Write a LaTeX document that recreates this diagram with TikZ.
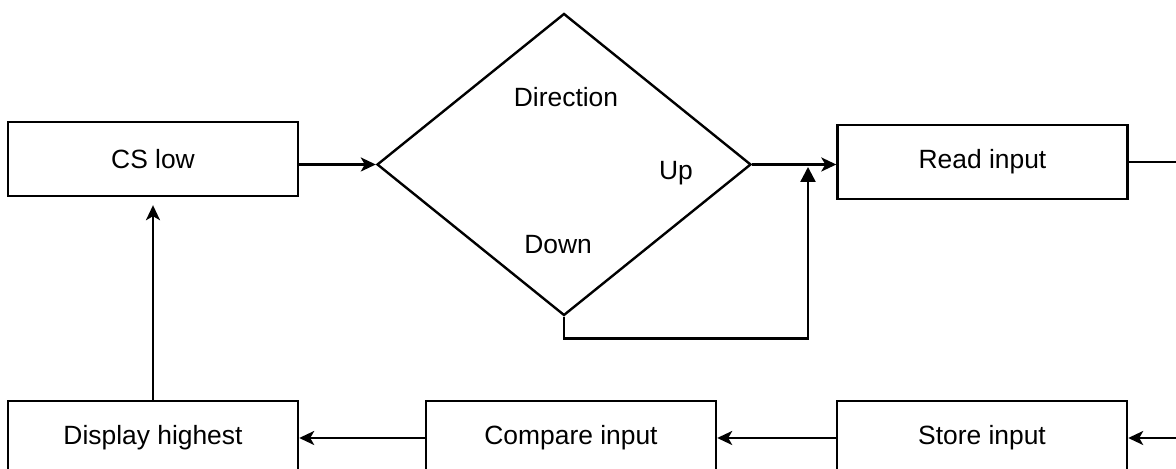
\documentclass[tikz,border=0pt]{standalone}
\usepackage{fontspec}
\setmainfont{Liberation Sans}
\usepackage{tikz}
\usetikzlibrary{arrows.meta, positioning, shapes.geometric, calc}

\begin{document}
\begin{tikzpicture}[
        x=0.5pt,
        y=0.5pt,
        line width=1.2pt,
        font=\fontsize{13.2pt}{16pt}\selectfont,
        stepbox/.style={draw,line width=1.2pt,minimum width=145pt,minimum height=37pt,inner sep=0pt},
        decision/.style={draw,diamond,line width=1.2pt,minimum width=187pt,minimum height=151pt,inner sep=0pt},
        flow/.style={-{Stealth[length=7.5pt,width=7pt,inset=2pt]}},
        joinflow/.style={-{Triangle[length=7.5pt,width=7.5pt]}}
    ]
        \useasboundingbox[fill=white] (0,0) rectangle (1176,469);
        % upper row
        \node[stepbox] (cslow) at (153,310) {CS low};
        \node[decision] (dir) at (564,304.5) {};
        \node[stepbox] (readin) at (982.5,307) {Read input};
        \node (dirlabel) at (566,371.5) {Direction};
        \node (uplabel) at (676,295.5) {Up};
        \node (downlabel) at (558,224.5) {Down};
        % lower row
        \node[stepbox] (disp) at (153,31) {Display highest};
        \node[stepbox] (compin) at (571,31) {Compare input};
        \node[stepbox] (storein) at (982,31) {Store input};
        \coordinate (upjoin) at (808,302);
        % connectors
        \draw[flow] (cslow.east |- dir.west) -- (dir.west);
        \draw[flow] (dir.east) -- (dir.east -| readin.west);
        \draw[joinflow] (dir.south) -- ++(0,-22) -| (upjoin);
        \draw[flow] (readin.east) -- ++(70,0) |- (storein.east);
        \draw[flow] (storein.west) -- (compin.east);
        \draw[flow] (compin.west) -- (disp.east);
        \draw[flow,shorten >=4pt] (disp.north) -- (cslow.south);
    \end{tikzpicture}
\end{document}
